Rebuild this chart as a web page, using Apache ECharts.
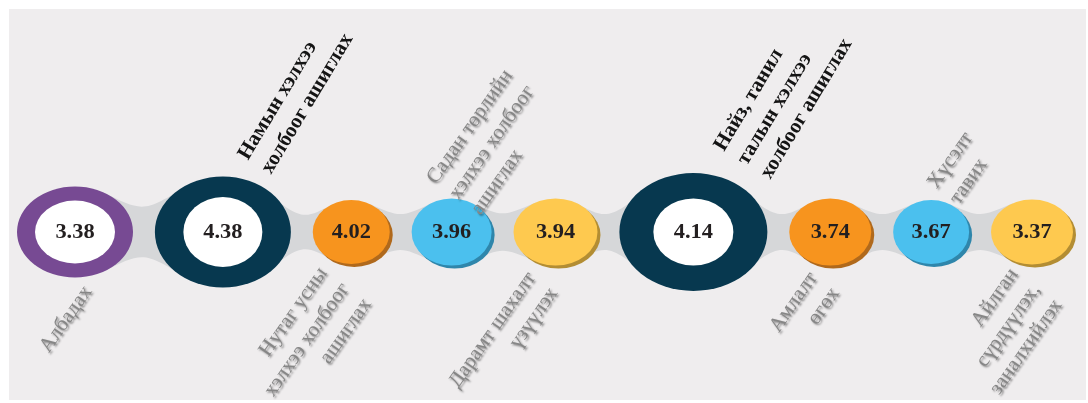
<!DOCTYPE html>
<html>
<head>
<meta charset="utf-8">
<script src="https://cdn.jsdelivr.net/npm/echarts@6/dist/echarts.min.js"></script>
<style>
html,body{margin:0;padding:0;background:#ffffff;}
#chart{width:1088px;height:403px;}
</style>
</head>
<body>
<div id="chart"></div>
<script>
// ---------------- DATA ----------------
const categories = [
  'Албадах',
  'Намын хэлхээ\nхолбоог ашиглах',
  'Нутаг усны\nхэлхээ холбоог\nашиглах',
  'Садан төрлийн\nхэлхээ холбоог\nашиглах',
  'Дарамт шахалт\nүзүүлэх',
  'Найз, танил\nталын хэлхээ\nхолбоог ашиглах',
  'Амлалт\nөгөх',
  'Хүсэлт\nтавих',
  'Айлган\nсүрдүүлэх,\nзаналхийлэх'
];
const values = [3.38, 4.38, 4.02, 3.96, 3.94, 4.14, 3.74, 3.67, 3.37];

// ---------------- STYLE / LAYOUT ----------------
const FONT = 'Liberation Serif';
const nodeKind  = ['ring','ring','solid','solid','solid','ring','solid','solid','solid'];
const nodeColor = ['#774a93','#07384f','#f7941e','#4bc0ee','#fec94f','#07384f','#f7941e','#4bc0ee','#fec94f'];
const nodeShade = [null,null,'#b0691c','#2f86ab','#b38d33',null,'#b0691c','#2f86ab','#b38d33'];
const nodeSize  = [[116,91],[136,111],[77,64],[80,67],[84,67],[148,118],[82,67],[76,64],[82,65]];
const holeSize  = [[80,63],[79,70],null,null,null,[80,67],null,null,null];
const labelSide = ['bottom','top','bottom','top','bottom','top','bottom','top','bottom'];
const labelBold = [false,true,false,false,false,true,false,false,false];
const labelNudge = [[13,56],[32,-67],[-6,53],[2,-35],[-13,50],[49,-69],[-6,50],[12,-38],[4,54]];

// horizontal layout: nodes laid side by side with an equal gap
const leftEdge = 17, rightEdge = 1073;
const totalW = nodeSize.reduce((s, d) => s + d[0], 0);
const gap = (rightEdge - leftEdge - totalW) / (nodeSize.length - 1);
const xPos = [];
let cursor = leftEdge;
nodeSize.forEach(d => { xPos.push(cursor + d[0] / 2); cursor += d[0] + gap; });

const nodeData = values.map((v, i) => [xPos[i], 0, v, i]);
const bandData = [];
for (let i = 0; i < values.length - 1; i++) bandData.push([xPos[i], xPos[i + 1], i]);

const chart = echarts.init(document.getElementById('chart'), null, {renderer: 'canvas'});

function bandItem(params, api) {
  const i = api.value(2);
  const a = api.coord([api.value(0), 0]);
  const b = api.coord([api.value(1), 0]);
  const cy = a[1];
  const ra = [nodeSize[i][0] / 2, nodeSize[i][1] / 2];
  const rb = [nodeSize[i + 1][0] / 2, nodeSize[i + 1][1] / 2];
  const ang = 62 * Math.PI / 180;
  const ax = a[0] + ra[0] * Math.cos(ang), ay = ra[1] * Math.sin(ang);
  const bx = b[0] - rb[0] * Math.cos(ang), by = rb[1] * Math.sin(ang);
  const xm = (a[0] + ra[0] + b[0] - rb[0]) / 2;
  const h = 0.56 * Math.min(ra[1], rb[1]);
  const hc = (h - 0.125 * (ay + by)) / 0.75;
  const d = 'M' + ax + ' ' + (cy - ay) +
    ' C' + xm + ' ' + (cy - hc) + ' ' + xm + ' ' + (cy - hc) + ' ' + bx + ' ' + (cy - by) +
    ' L' + bx + ' ' + (cy + by) +
    ' C' + xm + ' ' + (cy + hc) + ' ' + xm + ' ' + (cy + hc) + ' ' + ax + ' ' + (cy + ay) + ' Z';
  return {type: 'path', shape: {pathData: d}, style: {fill: '#d6d7d9'}, silent: true};
}

function nodeItem(params, api) {
  const i = api.value(3);
  const p = api.coord([api.value(0), api.value(1)]);
  const s = nodeSize[i];
  const children = [];
  const outer = {
    type: 'circle', x: p[0], y: p[1], scaleX: s[0] / s[1],
    shape: {cx: 0, cy: 0, r: s[1] / 2},
    style: {fill: nodeColor[i]}
  };
  if (nodeShade[i]) {
    outer.style.shadowColor = nodeShade[i];
    outer.style.shadowOffsetX = 3;
    outer.style.shadowOffsetY = 3;
    outer.style.shadowBlur = 0;
  }
  children.push(outer);
  if (nodeKind[i] === 'ring') {
    const hs = holeSize[i];
    children.push({
      type: 'circle', x: p[0], y: p[1], scaleX: hs[0] / hs[1],
      shape: {cx: 0, cy: 0, r: hs[1] / 2},
      style: {fill: '#ffffff'}
    });
  }
  children.push({
    type: 'text', x: p[0], y: p[1] + 1, scaleX: 1.12,
    style: {
      text: api.value(2).toFixed(2), align: 'center', verticalAlign: 'middle',
      fontFamily: FONT, fontSize: 20, fontWeight: 'bold', fill: '#231f20'
    }
  });
  // category label
  const bottom = labelSide[i] === 'bottom';
  const bold = labelBold[i];
  const n = labelNudge[i];
  const ls = {
    text: categories[i],
    align: bottom ? 'right' : 'left',
    verticalAlign: 'middle',
    fontFamily: FONT, fontSize: 21, fontWeight: bold ? 'bold' : 'normal',
    fill: bold ? '#141414' : '#868686',
    lineHeight: 27
  };
  if (!bold) {
    ls.textShadowColor = 'rgba(0,0,0,0.45)';
    ls.textShadowBlur = 2;
    ls.textShadowOffsetX = 1.5;
    ls.textShadowOffsetY = 1.5;
  }
  children.push({
    type: 'text', x: p[0] + n[0], y: p[1] + n[1],
    rotation: (bold ? 59 : 55) * Math.PI / 180,
    style: ls
  });
  return {type: 'group', children: children};
}

chart.setOption({
  backgroundColor: '#ffffff',
  animation: false,
  graphic: [{
    type: 'rect', left: 9, top: 9, z: -10,
    shape: {width: 1077, height: 391},
    style: {fill: '#efedee'}
  }],
  grid: {left: 0, right: 0, top: 182, height: 100},
  xAxis: {type: 'value', min: 0, max: 1088, show: false},
  yAxis: {type: 'value', min: -1, max: 1, show: false},
  series: [
    {type: 'custom', renderItem: bandItem, data: bandData, clip: false, silent: true, z: 1},
    {type: 'custom', renderItem: nodeItem, data: nodeData, clip: false, z: 2}
  ]
});
</script>
</body>
</html>
